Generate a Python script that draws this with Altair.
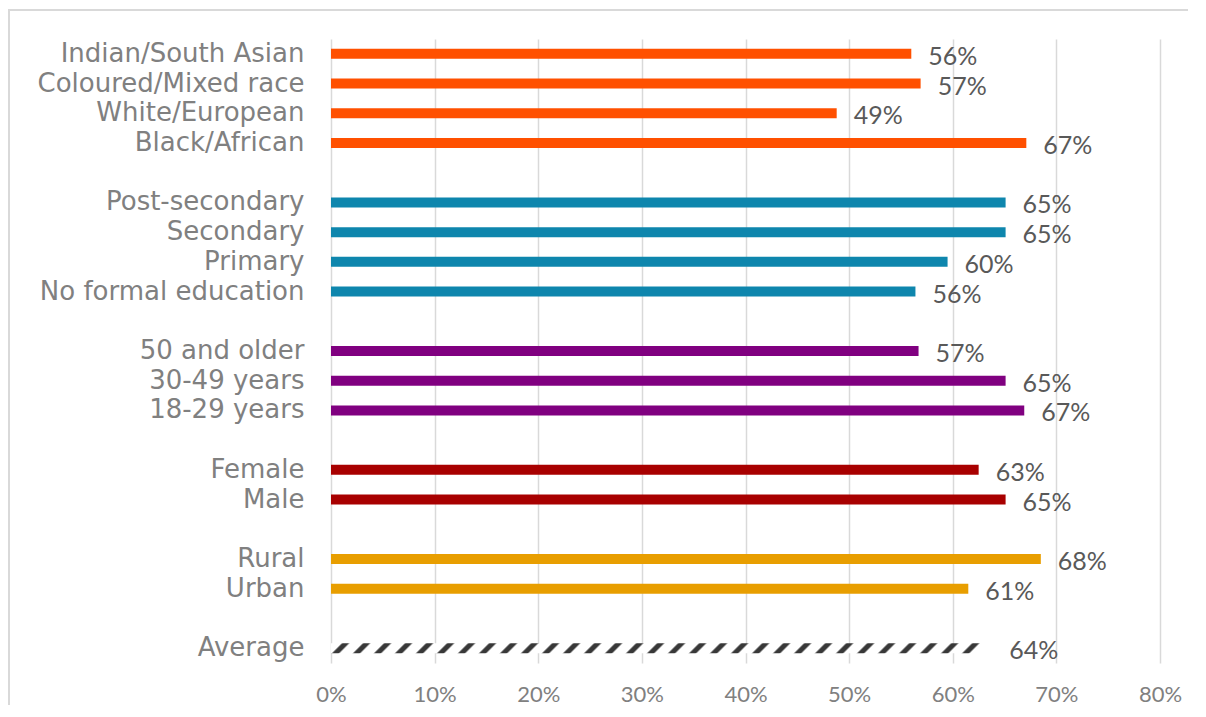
import altair as alt
import pandas as pd

categories = ["Indian/South Asian", "Coloured/Mixed race", "White/European", "Black/African",
              "Post-secondary", "Secondary", "Primary", "No formal education",
              "50 and older", "30-49 years", "18-29 years",
              "Female", "Male",
              "Rural", "Urban"]
values = [0.560, 0.569, 0.488, 0.671,
          0.651, 0.651, 0.595, 0.564,
          0.567, 0.651, 0.669,
          0.625, 0.651,
          0.685, 0.615]
labels = ["56%", "57%", "49%", "67%",
          "65%", "65%", "60%", "56%",
          "57%", "65%", "67%",
          "63%", "65%",
          "68%", "61%"]
groups = ["Race"] * 4 + ["Education"] * 4 + ["Age"] * 3 + ["Gender"] * 2 + ["Location"] * 2
group_names = ["Race", "Education", "Age", "Gender", "Location"]
group_colors = ["#FF5000", "#0E86AD", "#800080", "#A80000", "#E89E00"]

avg_category = ["Average"]
avg_value = [0.638]
avg_label = ["64%"]

x_ticks = [0, 0.1, 0.2, 0.3, 0.4, 0.5, 0.6, 0.7, 0.8]

# row order with blank spacer rows between groups
row_order = []
blank = " "
for g in group_names:
    row_order += [c for c, gg in zip(categories, groups) if gg == g]
    row_order.append(blank)
    blank += " "
row_order += avg_category

df = pd.DataFrame({"category": categories, "value": values, "label": labels, "group": groups})
df_avg = pd.DataFrame({"category": avg_category, "value": avg_value, "label": avg_label})

PLOT_W, PLOT_H = 829, 624

y_enc = alt.Y("category:N", sort=row_order, title=None,
              scale=alt.Scale(domain=row_order, paddingInner=0, paddingOuter=0),
              axis=alt.Axis(domain=False, ticks=False, grid=False, labelPadding=27,
                            labelFont="DejaVu Sans", labelFontSize=26, labelColor="#808080",
                            labelLimit=400, labelBaseline="middle"))
x_enc = alt.X("value:Q", title=None,
              scale=alt.Scale(domain=[0, 0.8], nice=False),
              axis=alt.Axis(values=x_ticks, format=".0%", domain=False, ticks=False, grid=True,
                            gridColor="#D9D9D9", gridWidth=1.5, labelFont="Lato",
                            labelFontSize=22, labelColor="#808080", labelPadding=21,
                            labelFlush=False))

bars = alt.Chart(df).mark_bar(size=10).encode(
    y=y_enc, x=x_enc,
    color=alt.Color("group:N", scale=alt.Scale(domain=group_names, range=group_colors), legend=None),
)

text = alt.Chart(df).mark_text(align="left", baseline="middle", dx=17, dy=3,
                               font="Lato", fontSize=25, color="#595959").encode(
    y=y_enc, x=x_enc, text="label:N")

# diagonal hatch via a striped gradient
bar_px = avg_value[0] / 0.8 * PLOT_W
period = 21.0 / bar_px
t = 1.0 * 10 / bar_px
stops = []
k = 0.0
while k < 1.0:
    stops += [
        alt.GradientStop(color="#ffffff", offset=min(1.0, k)),
        alt.GradientStop(color="#ffffff", offset=min(1.0, k + 0.48 * period)),
        alt.GradientStop(color="#383838", offset=min(1.0, k + 0.58 * period)),
        alt.GradientStop(color="#383838", offset=min(1.0, k + 0.82 * period)),
        alt.GradientStop(color="#ffffff", offset=min(1.0, k + 0.92 * period)),
    ]
    k += period
hatch = alt.LinearGradient(gradient="linear", stops=stops, x1=0, y1=0, x2=1, y2=t)

avg_bar = alt.Chart(df_avg).mark_bar(size=10, color=hatch).encode(y=y_enc, x=x_enc)
avg_text = alt.Chart(df_avg).mark_text(align="left", baseline="middle", dx=17, dy=3,
                                       font="Lato", fontSize=25, color="#595959").encode(
    y=y_enc, x=x_enc, text="label:N")

frame = alt.Chart(df_avg).mark_rect(fill=None, stroke="#D9D9D9", strokeWidth=2, clip=False).encode(
    x=alt.value(-322), x2=alt.value(1300), y=alt.value(-29), y2=alt.value(1000))

chart = alt.layer(frame, bars, text, avg_bar, avg_text).properties(
    width=PLOT_W, height=PLOT_H,
    autosize=alt.AutoSizeParams(type="none"),
    padding={"left": 323, "top": 31, "right": 28, "bottom": 42},
).configure(background="white", view=alt.ViewConfig(stroke=None))

chart.save("out.html", embed_options={"renderer": "svg", "actions": False})
